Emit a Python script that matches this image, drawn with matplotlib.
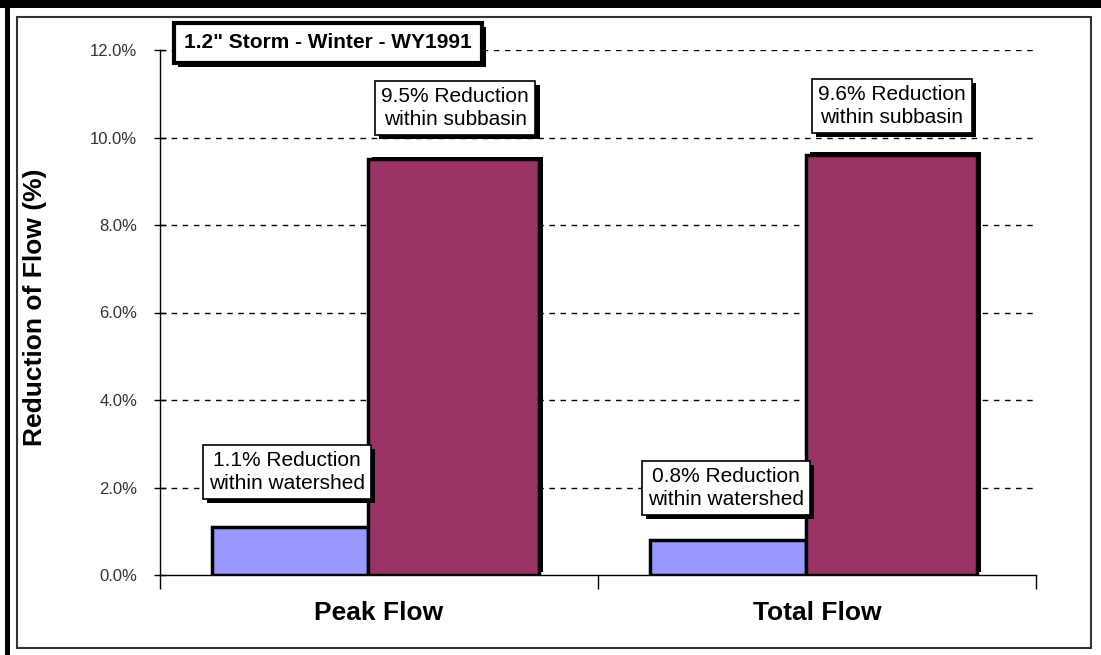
import matplotlib
matplotlib.use("Agg")
import matplotlib.pyplot as plt
import matplotlib.patheffects as pe
from matplotlib.patches import Rectangle
from matplotlib.ticker import FuncFormatter

plt.rcParams['font.family'] = ['Liberation Sans', 'DejaVu Sans']

# data
categories = ["Peak Flow", "Total Flow"]
watershed = [1.1, 0.8]     # % reduction within watershed
subbasin = [9.5, 9.6]      # % reduction within subbasin
watershed_notes = ["1.1% Reduction\nwithin watershed", "0.8% Reduction\nwithin watershed"]
subbasin_notes = ["9.5% Reduction\nwithin subbasin", "9.6% Reduction\nwithin subbasin"]
title = '1.2" Storm - Winter - WY1991'

fig = plt.figure(figsize=(11.01, 6.55), dpi=100)
W, H = 1101, 655

# frame around the picture
fig.add_artist(Rectangle((0, 1 - 8 / H), 1, 8 / H, transform=fig.transFigure, color="black", lw=0))
fig.add_artist(Rectangle((5 / W, 0), 5 / W, 1, transform=fig.transFigure, color="black", lw=0))
fig.add_artist(Rectangle((17 / W, 1 - 648 / H), (1091 - 17) / W, (648 - 17) / H,
                         transform=fig.transFigure, fill=False, ec="#333333", lw=1.5))

ax = fig.add_axes([160 / W, 1 - 575 / H, 876 / W, 525 / H])

blue_w = 0.356
purple_w = 0.395
x0 = [i + 0.119 for i in range(len(categories))]
x1 = [x + blue_w for x in x0]

ax.bar(x0, watershed, width=blue_w, align="edge", color="#9999FF",
       edgecolor="black", linewidth=2.5, zorder=3)
pb = ax.bar(x1, subbasin, width=purple_w - 0.005, align="edge", color="#993366",
            edgecolor="black", linewidth=2.5, zorder=3)
for p in pb:
    p.set_path_effects([pe.SimplePatchShadow(offset=(3, 2), shadow_rgbFace="black", alpha=1),
                        pe.Normal()])

ax.set_xlim(0, 2)
ax.set_ylim(0, 12)
ax.set_yticks(range(0, 13, 2))
ax.yaxis.set_major_formatter(FuncFormatter(lambda v, _: f"{v:.1f}%"))
ax.tick_params(axis="y", direction="inout", length=9, width=1, labelsize=12,
               labelcolor="#333333", pad=12)

ax.set_xticks([0, 1, 2])
ax.set_xticklabels([])
ax.tick_params(axis="x", which="major", direction="out", length=10, width=1)
ax.set_xticks([0.5, 1.5], minor=True)
ax.set_xticklabels(categories, minor=True, fontsize=19, fontweight="bold")
ax.tick_params(axis="x", which="minor", length=0, pad=19)

for y in range(2, 13, 2):
    ax.axhline(y, color="black", lw=1, ls=(0, (4, 4)), zorder=1)

for s in ["top", "right"]:
    ax.spines[s].set_visible(False)
ax.spines["left"].set_linewidth(1)
ax.spines["bottom"].set_linewidth(1)

ax.set_ylabel("Reduction of Flow (%)", fontsize=19, fontweight="bold")
ax.yaxis.set_label_coords(-0.129, 0.51)

def note(x, y, txt):
    t = ax.text(x, y, txt, ha="center", va="center", fontsize=15, linespacing=1.25,
                zorder=5, bbox=dict(boxstyle="square,pad=0.3", fc="white", ec="black", lw=1.2))
    t.get_bbox_patch().set_path_effects([
        pe.SimplePatchShadow(offset=(3, -3), shadow_rgbFace="black", alpha=1), pe.Normal()])

note_x_ws = [0.29, 1.292]
note_y_ws = [2.35, 1.99]
note_x_sb = [0.674, 1.671]
note_y_sb = [10.67, 10.72]
for i in range(len(categories)):
    note(note_x_ws[i], note_y_ws[i], watershed_notes[i])
    note(note_x_sb[i], note_y_sb[i], subbasin_notes[i])

tt = fig.text(328 / W, 1 - 43 / H, title, ha="center", va="center", fontsize=15,
              fontweight="bold", zorder=6,
              bbox=dict(boxstyle="square,pad=0.5", fc="white", ec="black", lw=3))
tt.get_bbox_patch().set_path_effects([
    pe.SimplePatchShadow(offset=(3, -3), shadow_rgbFace="black", alpha=1), pe.Normal()])

fig.savefig("out.png", dpi=100, facecolor="white")
